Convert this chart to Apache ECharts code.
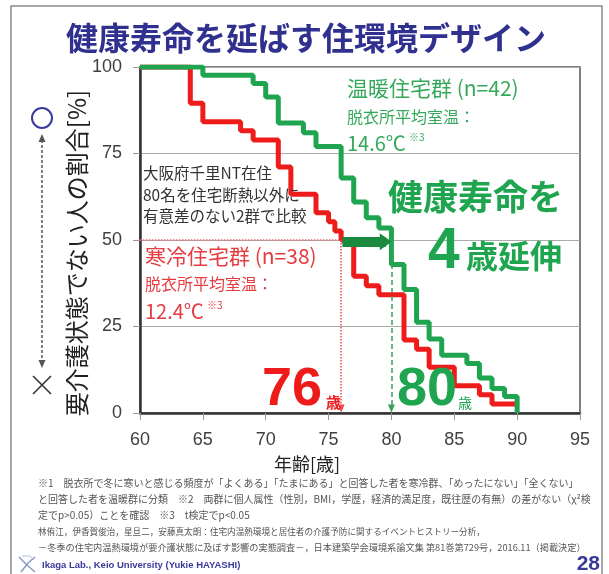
<!DOCTYPE html>
<html><head><meta charset="utf-8">
<script src="https://cdn.jsdelivr.net/npm/echarts@6/dist/echarts.min.js"></script>
<style>html,body{margin:0;padding:0;background:#fff}#c{width:609px;height:574px}</style>
</head><body><div id="c"></div>
<script>
// ---- data ----
const warmAges = [60, 65, 69, 70, 71, 73, 74, 76, 77, 78, 79, 80, 81, 82, 83, 84, 86, 87, 88, 89, 90];
const warmPct  = [100, 97.6, 95.2, 91.3, 83.8, 81.0, 77.0, 67.9, 61.0, 56.4, 53.5, 42.9, 35.7, 26.2, 21.4, 16.7, 14.3, 10.1, 7.1, 4.8, 0];
const coldAges = [60, 64, 65, 68, 69, 71, 72, 74, 75, 75.5, 76, 77, 78, 79, 81, 82, 83, 85, 87, 88, 90];
const coldPct  = [100, 89.5, 84.2, 81.6, 78.9, 71.1, 63.2, 57.9, 55.3, 52.6, 50.0, 39.5, 36.8, 34.2, 21.1, 18.4, 13.2, 7.9, 5.3, 2.6, 2.6];
const xTicks = [60, 65, 70, 75, 80, 85, 90, 95];
const yTicks = [0, 25, 50, 75, 100];
const coldMedianAge = 76;
const warmMedianAge = 80;
const medianPct = 50;

const JP = '"Noto Sans CJK JP", sans-serif';
const LAT = '"Liberation Sans", Arial, sans-serif';
const RED = '#ee1b1b';
const GREEN = '#1fa54f';
const GREEN_TXT = '#35a95b';
const RED_TXT = '#e63b40';

function T(text, x, y, o) {
  o = o || {};
  return {
    type: 'text', x: x, y: y, rotation: o.rot || 0, z: 100,
    style: {
      text: text, fill: o.color || '#333',
      fontSize: o.size || 16, fontFamily: o.font || JP, fontWeight: o.weight || 'normal',
      align: o.align || 'left', verticalAlign: 'middle',
      textAlign: o.align || 'left', textVerticalAlign: 'middle'
    }
  };
}

const chart = echarts.init(document.getElementById('c'), null, {renderer: 'canvas'});

const graphics = [
  {type: 'rect', shape: {x: 11, y: 6, width: 591, height: 580}, style: {fill: 'none', stroke: '#8a8a8a', lineWidth: 1.5}, z: 0},
  T('健康寿命を延ばす住環境デザイン', 306, 38, {size: 32, weight: 'bold', color: '#30308f', align: 'center'}),
  // y axis title
  T('要介護状態でない人の割合[%]', 77, 253, {size: 24, rot: Math.PI / 2, align: 'center', color: '#222'}),
  {type: 'circle', shape: {cx: 42, cy: 118, r: 10}, style: {fill: 'none', stroke: '#3b3b9b', lineWidth: 2}, z: 100},
  {type: 'line', shape: {x1: 42, y1: 140, x2: 42, y2: 362}, style: {stroke: '#555', lineWidth: 1.5, lineDash: [3, 2]}, z: 100},
  {type: 'polygon', shape: {points: [[42, 134], [38.5, 142], [45.5, 142]]}, style: {fill: '#555'}, z: 100},
  {type: 'polygon', shape: {points: [[42, 368], [38.5, 360], [45.5, 360]]}, style: {fill: '#555'}, z: 100},
  {type: 'line', shape: {x1: 33, y1: 376, x2: 51, y2: 394}, style: {stroke: '#333', lineWidth: 1.6}, z: 100},
  {type: 'line', shape: {x1: 51, y1: 376, x2: 33, y2: 394}, style: {stroke: '#333', lineWidth: 1.6}, z: 100},
  // x axis title
  T('年齢[歳]', 307, 464, {size: 18, align: 'center', color: '#222'}),
  // warm group
  T('温暖住宅群 (n=42)', 347, 88, {size: 21, color: GREEN_TXT}),
  T('脱衣所平均室温：', 347, 117, {size: 16, color: GREEN_TXT}),
  T('14.6℃', 347, 143, {size: 20, color: GREEN_TXT}),
  T('※3', 409, 137, {size: 10, color: GREEN_TXT}),
  // info
  T('大阪府千里NT在住', 143, 173, {size: 15.5, color: '#333'}),
  T('80名を住宅断熱以外に', 143, 195, {size: 15.5, color: '#333'}),
  T('有意差のない2群で比較', 143, 216, {size: 15.5, color: '#333'}),
  // cold group
  T('寒冷住宅群 (n=38)', 145, 256, {size: 21, color: RED_TXT}),
  T('脱衣所平均室温：', 145, 284, {size: 16, color: RED_TXT}),
  T('12.4℃', 145, 311, {size: 20, color: RED_TXT}),
  T('※3', 207, 305, {size: 10, color: RED_TXT}),
  // big message
  T('健康寿命を', 388, 197, {size: 35, weight: 'bold', color: GREEN}),
  T('4', 428, 252, {size: 57, weight: 'bold', color: GREEN, font: LAT}),
  T('歳延伸', 466, 256, {size: 32, weight: 'bold', color: GREEN}),
  T('76', 262, 390, {size: 54, weight: 'bold', color: RED, font: LAT}),
  T('歳', 326, 402, {size: 15, weight: 'bold', color: RED}),
  T('80', 397, 390, {size: 54, weight: 'bold', color: GREEN, font: LAT}),
  T('歳', 458, 403, {size: 14, color: GREEN}),
  // footer notes
  T('※1　脱衣所で冬に寒いと感じる頻度が「よくある」「たまにある」と回答した者を寒冷群、「めったにない」「全くない」', 38, 483, {size: 10, color: '#555'}),
  T('と回答した者を温暖群に分類　※2　両群に個人属性（性別，BMI，学歴，経済的満足度，既往歴の有無）の差がない（χ²検', 38, 499, {size: 10, color: '#555'}),
  T('定でp>0.05）ことを確認　※3　t検定でp<0.05', 38, 515, {size: 10, color: '#555'}),
  T('林侑江，伊香賀俊治，星旦二，安藤真太朗：住宅内温熱環境と居住者の介護予防に関するイベントヒストリー分析，', 38, 532, {size: 8.6, color: '#555'}),
  T('－冬季の住宅内温熱環境が要介護状態に及ぼす影響の実態調査－，日本建築学会環境系論文集 第81巻第729号，2016.11（掲載決定）', 38, 548, {size: 9.2, color: '#555'}),
  // logo
  {type: 'polyline', shape: {points: [[19, 557], [27, 565], [35, 572]]}, style: {stroke: '#8a9ac8', lineWidth: 1.5, fill: 'none'}, z: 100},
  {type: 'polyline', shape: {points: [[35, 557], [28, 563], [21, 572]]}, style: {stroke: '#8a9ac8', lineWidth: 1.5, fill: 'none'}, z: 100},
  {type: 'polyline', shape: {points: [[22, 556], [30, 556], [34, 560]]}, style: {stroke: '#b0bcd8', lineWidth: 1, fill: 'none'}, z: 100},
  T('Ikaga Lab., Keio University (Yukie HAYASHI)', 42, 565, {size: 9.5, weight: 'bold', color: '#3a3a9a', font: LAT}),
  T('28', 600, 564, {size: 21, weight: 'bold', color: '#3a3a9a', font: LAT, align: 'right'})
];

const option = {
  backgroundColor: '#fff',
  animation: false,
  grid: {left: 140, right: 29, top: 67, bottom: 161, show: true, borderColor: '#555', borderWidth: 1.5, outerBoundsMode: 'none', containLabel: false},
  xAxis: {
    type: 'value', min: xTicks[0], max: xTicks[xTicks.length - 1], interval: 5,
    axisLine: {show: true, lineStyle: {color: '#333', width: 2.5}},
    axisTick: {show: true, length: 7, lineStyle: {color: '#999', width: 1}},
    axisLabel: {fontSize: 18, fontFamily: LAT, color: '#404040', margin: 18},
    splitLine: {show: false}
  },
  yAxis: {
    type: 'value', min: yTicks[0], max: yTicks[yTicks.length - 1], interval: 25,
    axisLine: {show: true, lineStyle: {color: '#333', width: 2.5}},
    axisTick: {show: true, length: 7, lineStyle: {color: '#999', width: 1}},
    axisLabel: {fontSize: 18, fontFamily: LAT, color: '#404040', margin: 18},
    splitLine: {show: true, lineStyle: {color: '#aaa', width: 1}}
  },
  series: [
    {
      name: '寒冷住宅群', type: 'line', step: 'end', symbol: 'none', z: 3,
      data: coldAges.map((a, i) => [a, coldPct[i]]),
      lineStyle: {color: RED, width: 5},
      markLine: {
        silent: true, label: {show: false}, animation: false,
        data: [
          [{coord: [xTicks[0], medianPct], symbol: 'none', lineStyle: {color: '#ec6a70', width: 1.5, type: 'dotted'}},
           {coord: [coldMedianAge, medianPct], symbol: 'none'}],
          [{coord: [coldMedianAge, medianPct], symbol: 'none', lineStyle: {color: '#ec4a50', width: 1.5, type: 'dotted'}},
           {coord: [coldMedianAge, 1.3], symbol: 'triangle', symbolSize: [7, 8]}]
        ]
      }
    },
    {
      name: '温暖住宅群', type: 'line', step: 'end', symbol: 'none', z: 4,
      data: warmAges.map((a, i) => [a, warmPct[i]]),
      lineStyle: {color: GREEN, width: 5},
      markLine: {
        silent: true, label: {show: false}, animation: false,
        data: [
          [{coord: [warmMedianAge, medianPct], symbol: 'none', lineStyle: {color: '#3a9d5c', width: 1.5, type: [5, 3]}},
           {coord: [warmMedianAge, 1.3], symbol: 'triangle', symbolSize: [7, 8]}],
          [{coord: [coldMedianAge + 0.1, medianPct - 0.5], symbol: 'none', lineStyle: {color: '#1b8a3f', width: 10, type: 'solid'}},
           {coord: [warmMedianAge - 0.45, medianPct - 0.5], symbol: 'triangle', symbolSize: [17, 12]}]
        ]
      }
    }
  ],
  graphic: {elements: graphics}
};
chart.setOption(option);
</script>
</body></html>
